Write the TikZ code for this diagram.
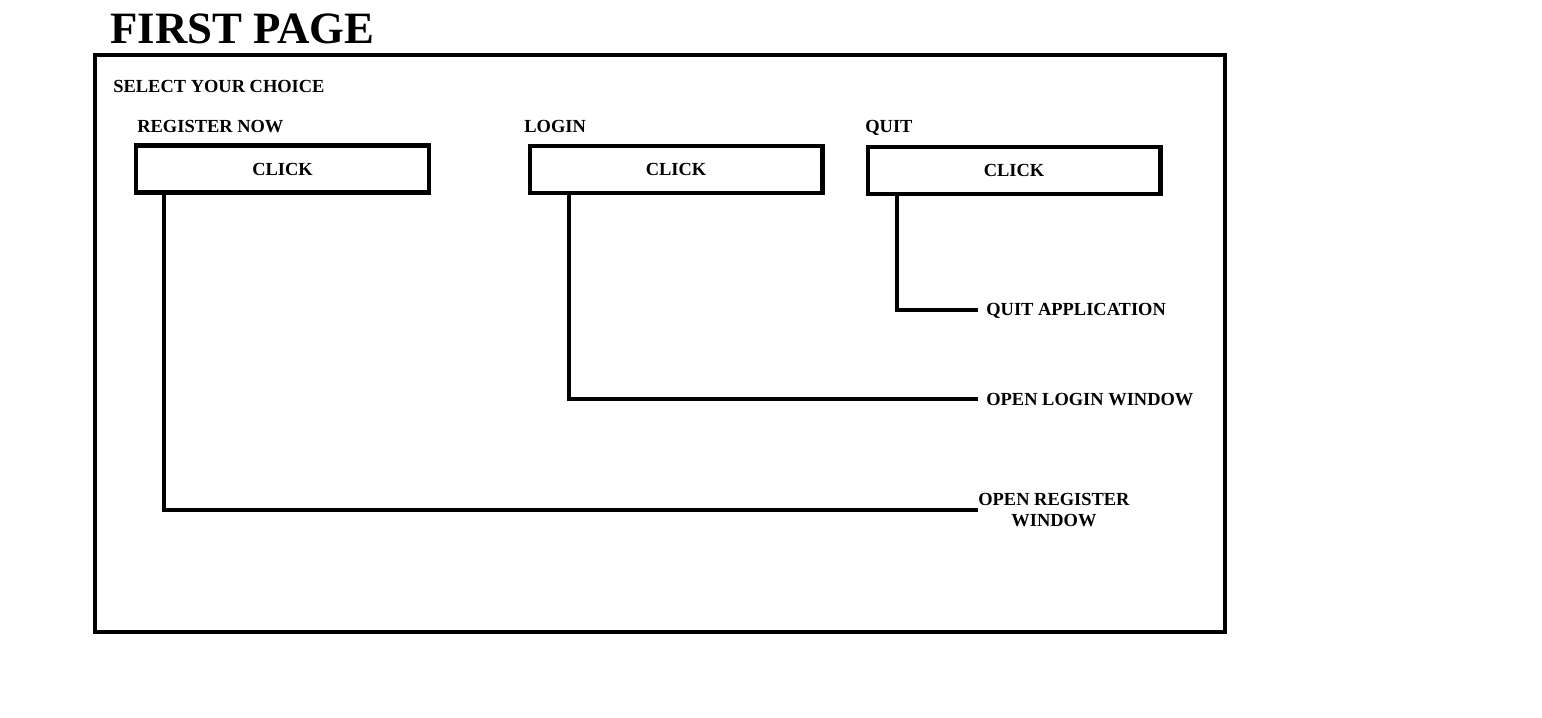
\documentclass[tikz,border=0pt]{standalone}
\usepackage{fontspec}
\setmainfont{Liberation Serif}
\usetikzlibrary{positioning}

\begin{document}
\begin{tikzpicture}[x=0.02cm, y=-0.02cm,
	wire/.style={line width=2.3pt},
	clickbox/.style={draw, line width=2.3pt, minimum width=5.86cm, minimum height=0.94cm, font=\bfseries\fontsize{10.5}{12}\selectfont},
	lbl/.style={font=\bfseries\fontsize{10.5}{12}\selectfont, inner sep=0pt, anchor=base west}]
\useasboundingbox (0,0) rectangle (1542,717);
\node[inner sep=0pt, anchor=base west, font=\bfseries\fontsize{25.5}{28}\selectfont](title) at (110,43){FIRST PAGE};
\draw[wire] (95,55) rectangle (1225,632);
\node[lbl](sel) at (113,92.5){SELECT YOUR CHOICE};
\node[lbl](regnow) at (137,132.5){REGISTER NOW};
\node[lbl](login) at (524,132.5){LOGIN};
\node[lbl](quit) at (865,132.5){QUIT};
\node[clickbox](b1) at (282.5,169){CLICK};
\node[clickbox](b2) at (676,169.5){CLICK};
\node[clickbox](b3) at (1014,170.5){CLICK};
% results
\coordinate (qc) at (897,310);
\coordinate (lc) at (569,399);
\coordinate (rc) at (164,510);
\node[lbl](quitapp) at (986,315){QUIT APPLICATION};
\node[lbl](openlog) at (986,405.5){OPEN LOGIN WINDOW};
\node[lbl, anchor=west, align=center](openreg) at (978,510){OPEN REGISTER\\WINDOW};
\draw[wire] (b3.south -| qc)--(qc)--++(81,0);
\draw[wire] (b2.south -| lc)--(lc)--++(409,0);
\draw[wire] (b1.south -| rc)--(rc)--(openreg.west);
\end{tikzpicture}
\end{document}
